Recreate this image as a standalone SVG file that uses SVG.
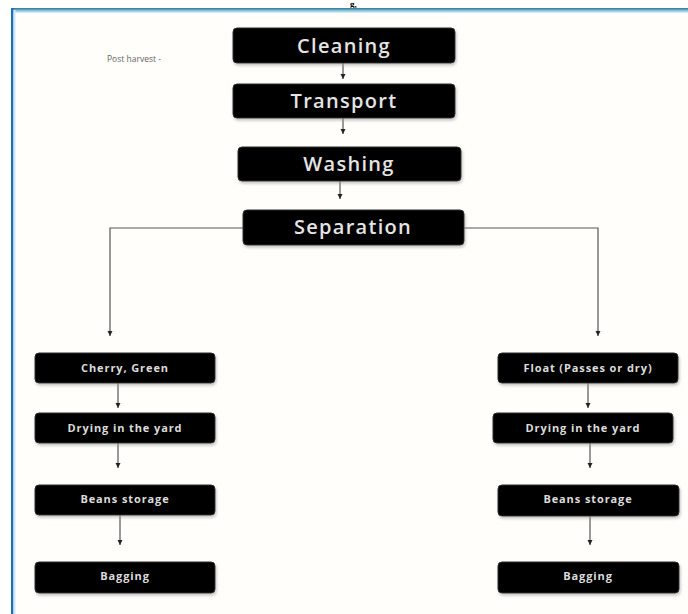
<svg xmlns="http://www.w3.org/2000/svg" width="688" height="614" viewBox="0 0 688 614">
  <defs>
    <style>
      .box { fill: #000; stroke: #2a2a2a; stroke-width: 1; filter: url(#glow); }
      .big { font-family: "Open Sans", "Noto Sans", sans-serif; font-weight: 600; font-size: 20px; fill: #e4e4e4; text-anchor: middle; letter-spacing: 1.3px; }
      .small { font-family: "Open Sans", "Noto Sans", sans-serif; font-weight: 700; font-size: 11px; fill: #dcdcdc; text-anchor: middle; letter-spacing: 0.9px; }
      .conn { fill: none; stroke: #555; stroke-width: 1.2; }
      .note { font-family: "Open Sans", "Noto Sans", sans-serif; font-size: 8.5px; fill: #666; }
    </style>
    <filter id="glow" x="-10%" y="-30%" width="120%" height="160%">
      <feGaussianBlur in="SourceAlpha" stdDeviation="1.5"/>
      <feOffset dx="1" dy="2" result="b"/>
      <feFlood flood-color="#9a9a9a" flood-opacity="0.6"/>
      <feComposite in2="b" operator="in"/>
      <feMerge><feMergeNode/><feMergeNode in="SourceGraphic"/></feMerge>
    </filter>
    <marker id="arr" markerWidth="6" markerHeight="6" refX="5" refY="3" orient="auto" markerUnits="userSpaceOnUse">
      <path d="M0,0.5 L5,3 L0,5.5 Z" fill="#222"/>
    </marker>
    <linearGradient id="topb" x1="0" y1="0" x2="0" y2="1">
      <stop offset="0" stop-color="#2f6f8c"/>
      <stop offset="0.4" stop-color="#6fb3cf"/>
      <stop offset="1" stop-color="#e6f8fc"/>
    </linearGradient>
  </defs>

  <rect x="0" y="0" width="688" height="614" fill="#ffffff"/>
  <rect x="12" y="10" width="676" height="604" fill="#fffefa"/>
  <text x="350" y="7" font-family="Liberation Serif, serif" font-weight="700" font-size="9" fill="#000">g,</text>
  <rect x="12" y="8" width="676" height="5" fill="url(#topb)"/>
  <rect x="11" y="8" width="2.5" height="606" fill="#1f6fb8"/>
  <rect x="13.5" y="10" width="2" height="604" fill="#cfe8f6"/>

  <text class="note" x="107" y="62">Post harvest  -</text>

  <g id="connectors">
    <line class="conn" x1="343" y1="63" x2="343" y2="79" marker-end="url(#arr)"/>
    <line class="conn" x1="343" y1="118" x2="343" y2="134" marker-end="url(#arr)"/>
    <line class="conn" x1="340" y1="181" x2="340" y2="199" marker-end="url(#arr)"/>
    <polyline class="conn" points="243,228 110,228 110,336" marker-end="url(#arr)"/>
    <polyline class="conn" points="464,228 598,228 598,336" marker-end="url(#arr)"/>
    <line class="conn" x1="118" y1="383" x2="118" y2="408" marker-end="url(#arr)"/>
    <line class="conn" x1="118" y1="443" x2="118" y2="468" marker-end="url(#arr)"/>
    <line class="conn" x1="120" y1="515" x2="120" y2="545" marker-end="url(#arr)"/>
    <line class="conn" x1="588" y1="383" x2="588" y2="408" marker-end="url(#arr)"/>
    <line class="conn" x1="590" y1="443" x2="590" y2="468" marker-end="url(#arr)"/>
    <line class="conn" x1="590" y1="516" x2="590" y2="545" marker-end="url(#arr)"/>
  </g>

  <g id="cleaning">
    <rect class="box" x="233" y="28" width="222" height="35" rx="4"/>
    <text class="big" x="344" y="52.5">Cleaning</text>
  </g>
  <g id="transport">
    <rect class="box" x="233" y="84" width="222" height="34" rx="4"/>
    <text class="big" x="344" y="108">Transport</text>
  </g>
  <g id="washing">
    <rect class="box" x="238" y="147" width="223" height="34" rx="4"/>
    <text class="big" x="349" y="171">Washing</text>
  </g>
  <g id="separation">
    <rect class="box" x="243" y="210" width="221" height="35" rx="4"/>
    <text class="big" x="353" y="234">Separation</text>
  </g>

  <g id="cherry">
    <rect class="box" x="35" y="353" width="180" height="30" rx="4"/>
    <text class="small" x="125" y="371.5">Cherry, Green</text>
  </g>
  <g id="drying-left">
    <rect class="box" x="35" y="413" width="180" height="30" rx="4"/>
    <text class="small" x="125" y="431.5">Drying in the yard</text>
  </g>
  <g id="storage-left">
    <rect class="box" x="35" y="485" width="180" height="30" rx="4"/>
    <text class="small" x="125" y="503">Beans storage</text>
  </g>
  <g id="bagging-left">
    <rect class="box" x="35" y="562" width="180" height="31" rx="4"/>
    <text class="small" x="125" y="580">Bagging</text>
  </g>

  <g id="float">
    <rect class="box" x="498" y="353" width="180" height="30" rx="4"/>
    <text class="small" x="588" y="371.5">Float (Passes or dry)</text>
  </g>
  <g id="drying-right">
    <rect class="box" x="493" y="413" width="180" height="30" rx="4"/>
    <text class="small" x="583" y="431.5">Drying in the yard</text>
  </g>
  <g id="storage-right">
    <rect class="box" x="498" y="485" width="181" height="31" rx="4"/>
    <text class="small" x="588" y="503">Beans storage</text>
  </g>
  <g id="bagging-right">
    <rect class="box" x="498" y="562" width="181" height="31" rx="4"/>
    <text class="small" x="588" y="580">Bagging</text>
  </g>
</svg>
